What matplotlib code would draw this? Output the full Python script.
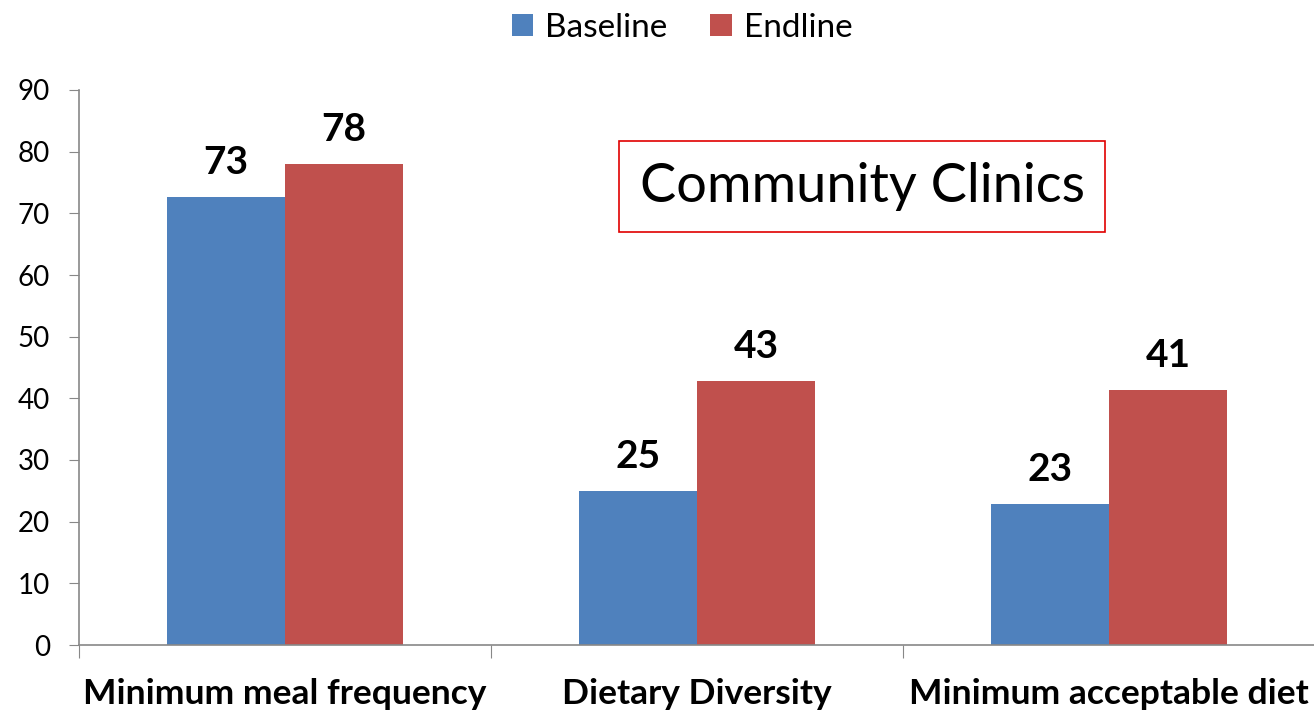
import numpy as np
import matplotlib.pyplot as plt

plt.rcParams['font.family'] = ['Lato', 'DejaVu Sans']

categories = ['Minimum meal frequency', 'Dietary Diversity', 'Minimum acceptable diet']
baseline = [72.7, 25.0, 22.9]
endline = [78.0, 42.8, 41.4]
series_names = ['Baseline', 'Endline']
colors = ['#4F81BD', '#C0504D']

fig = plt.figure(figsize=(13.14, 7.10), dpi=100)
ax = fig.add_axes([79 / 1314, 65 / 710, 1236 / 1314, 555 / 710])

x = np.arange(len(categories))
width = 0.286
bars_b = ax.bar(x - width / 2, baseline, width, color=colors[0], label=series_names[0])
bars_e = ax.bar(x + width / 2, endline, width, color=colors[1], label=series_names[1])

# value labels above each bar
for bars in (bars_b, bars_e):
    for b in bars:
        ax.annotate(f'{b.get_height():.0f}', (b.get_x() + b.get_width() / 2, b.get_height()),
                    xytext=(0, 12), textcoords='offset points', ha='center', va='bottom',
                    fontsize=28, fontweight='bold')

ax.set_xlim(-0.5, len(categories) - 0.5)
ax.set_ylim(0, 90)
ax.set_yticks(np.arange(0, 91, 10))
ax.tick_params(axis='y', labelsize=20, length=7, color='#888888', pad=14)

# category boundaries get the tick marks, names sit in between
ax.set_xticks(np.arange(-0.5, len(categories)), minor=False)
ax.set_xticklabels([])
ax.tick_params(axis='x', length=9, color='#888888')
ax.set_xticks(x, minor=True)
ax.set_xticklabels(categories, minor=True, fontsize=25.5, fontweight='bold')
ax.tick_params(axis='x', which='minor', length=0, pad=24)

for side in ('top', 'right'):
    ax.spines[side].set_visible(False)
for side in ('left', 'bottom'):
    ax.spines[side].set_color('#888888')
    ax.spines[side].set_linewidth(1.2)

ax.text(0.6335, 0.826, 'Community Clinics', transform=ax.transAxes, ha='center', va='center',
        fontsize=39, bbox=dict(boxstyle='square,pad=0.38', fc='white', ec='#E00000', lw=1.2))

fig.legend(loc='upper center', bbox_to_anchor=(0.519, 1.024), ncol=2, frameon=False,
           fontsize=24, handlelength=0.65, handleheight=0.65, handletextpad=0.35, columnspacing=1.3)

fig.savefig('out.png', dpi=100)
